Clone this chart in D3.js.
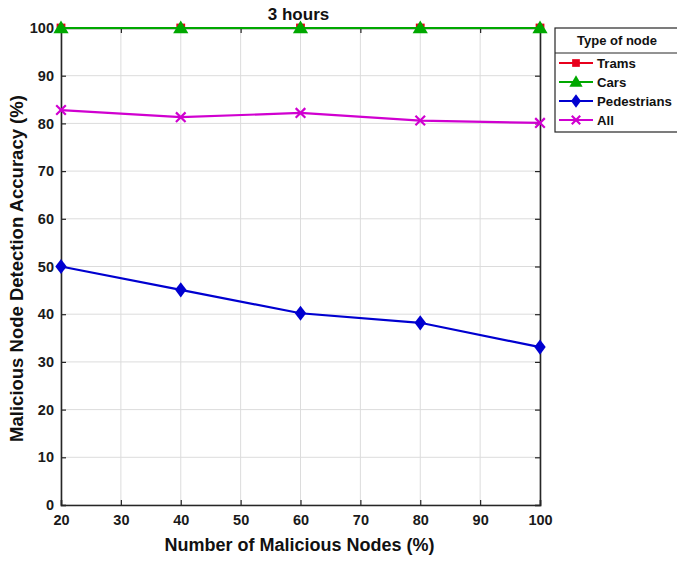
<!DOCTYPE html>
<html>
<head>
<meta charset="utf-8">
<script src="https://d3js.org/d3.v7.min.js"></script>
<style>
  body { margin: 0; background: #fff; }
  svg { display: block; font-family: "Liberation Sans", Arial, sans-serif; }
</style>
</head>
<body>
<svg id="chart" width="677" height="561"></svg>
<script>
// Detection accuracy by node type, 3 hours of simulation
const maliciousPct = [20, 40, 60, 80, 100];
const trams = [100, 100, 100, 100, 100];
const cars = [100, 100, 100, 100, 100];
const pedestrians = [50, 45.1, 40.2, 38.2, 33.1];
const allNodes = [82.8, 81.3, 82.2, 80.6, 80.1];
const xTicks = [20, 30, 40, 50, 60, 70, 80, 90, 100];
const yTicks = [0, 10, 20, 30, 40, 50, 60, 70, 80, 90, 100];

const series = [
  { name: "Trams", values: trams, color: "#e8001c", marker: "square" },
  { name: "Cars", values: cars, color: "#00a800", marker: "triangle" },
  { name: "Pedestrians", values: pedestrians, color: "#0000d0", marker: "diamond" },
  { name: "All", values: allNodes, color: "#d000d0", marker: "cross" }
];

const svg = d3.select("#chart");
const margin = { left: 61, right: 137, top: 28, bottom: 56 };
const W = 677, H = 561;
const x = d3.scaleLinear().domain([20, 100]).range([margin.left, W - margin.right]);
const y = d3.scaleLinear().domain([0, 100]).range([H - margin.bottom, margin.top]);
const axisColor = "#262626";

// grid
const grid = svg.append("g");
grid.selectAll(".gx").data(xTicks).join("line")
  .attr("x1", d => x(d)).attr("x2", d => x(d))
  .attr("y1", y(0)).attr("y2", y(100))
  .attr("stroke", "#dcdcdc").attr("stroke-width", 1);
grid.selectAll(".gy").data(yTicks).join("line")
  .attr("x1", x(20)).attr("x2", x(100))
  .attr("y1", d => y(d)).attr("y2", d => y(d))
  .attr("stroke", "#dcdcdc").attr("stroke-width", 1);

// axes with inward ticks on all four sides
const tickLen = 5;
const fmt = d3.format("d");
const bottomAxis = svg.append("g").attr("transform", `translate(0,${y(0)})`)
  .call(d3.axisBottom(x).tickValues(xTicks).tickSize(-tickLen).tickPadding(10).tickFormat(fmt));
const topAxis = svg.append("g").attr("transform", `translate(0,${y(100)})`)
  .call(d3.axisTop(x).tickValues(xTicks).tickSize(-tickLen).tickFormat(""));
const leftAxis = svg.append("g").attr("transform", `translate(${x(20)},0)`)
  .call(d3.axisLeft(y).tickValues(yTicks).tickSize(-tickLen).tickPadding(7).tickFormat(fmt));
const rightAxis = svg.append("g").attr("transform", `translate(${x(100)},0)`)
  .call(d3.axisRight(y).tickValues(yTicks).tickSize(-tickLen).tickFormat(""));

[bottomAxis, topAxis, leftAxis, rightAxis].forEach(g => {
  g.select(".domain").attr("stroke", axisColor).attr("stroke-width", 1.6);
  g.selectAll(".tick line").attr("stroke", axisColor).attr("stroke-width", 1.2);
  g.selectAll(".tick text").attr("fill", "#1a1a1a")
    .style("font-size", "14.5px").style("font-weight", "bold")
    .style("font-family", "'Liberation Sans', Arial, sans-serif");
});

// markers
function drawMarker(g, type, cx, cy, color, s) {
  if (type === "square") {
    g.append("rect").attr("x", cx - s * 0.55).attr("y", cy - s * 0.55)
      .attr("width", s * 1.1).attr("height", s * 1.1).attr("fill", color);
  } else if (type === "triangle") {
    const r = s * 0.95;
    g.append("path")
      .attr("d", `M${cx},${cy - r} L${cx + r},${cy + r * 0.7} L${cx - r},${cy + r * 0.7} Z`)
      .attr("fill", color);
  } else if (type === "diamond") {
    const r = s * 0.95;
    g.append("path")
      .attr("d", `M${cx},${cy - r} L${cx + r * 0.75},${cy} L${cx},${cy + r} L${cx - r * 0.75},${cy} Z`)
      .attr("fill", color);
  } else if (type === "cross") {
    const r = s * 0.6;
    g.append("path")
      .attr("d", `M${cx - r},${cy - r} L${cx + r},${cy + r} M${cx - r},${cy + r} L${cx + r},${cy - r}`)
      .attr("stroke", color).attr("stroke-width", 2.2).attr("fill", "none");
  }
}

const line = d3.line().x((d, i) => x(maliciousPct[i])).y(d => y(d));
const plot = svg.append("g");
series.forEach(s => {
  plot.append("path").datum(s.values).attr("d", line)
    .attr("fill", "none").attr("stroke", s.color).attr("stroke-width", 2.2);
  s.values.forEach((v, i) => drawMarker(plot, s.marker, x(maliciousPct[i]), y(v), s.color, 8));
});

// title and axis labels
svg.append("text").attr("x", (x(20) + x(100)) / 2 - 2).attr("y", 20)
  .attr("text-anchor", "middle").style("font-size", "17px").style("font-weight", "bold")
  .attr("fill", "#111").text("3 hours");
svg.append("text").attr("x", (x(20) + x(100)) / 2 - 1).attr("y", 551)
  .attr("text-anchor", "middle").style("font-size", "18px").style("font-weight", "bold")
  .attr("fill", "#111").text("Number of Malicious Nodes (%)");
svg.append("text")
  .attr("transform", `translate(23,${(y(0) + y(100)) / 2 + 2}) rotate(-90)`)
  .attr("text-anchor", "middle").style("font-size", "18.5px").style("font-weight", "bold")
  .attr("fill", "#111").text("Malicious Node Detection Accuracy (%)");

// legend
const lg = svg.append("g").attr("transform", "translate(555,28)");
lg.append("rect").attr("x", 0).attr("y", 0).attr("width", 124).attr("height", 104)
  .attr("fill", "#fff").attr("stroke", axisColor).attr("stroke-width", 1.2);
lg.append("line").attr("x1", 0).attr("x2", 124).attr("y1", 25).attr("y2", 25)
  .attr("stroke", axisColor).attr("stroke-width", 1);
lg.append("text").attr("x", 62).attr("y", 17).attr("text-anchor", "middle")
  .style("font-size", "13px").style("font-weight", "bold").attr("fill", "#111").text("Type of node");
series.forEach((s, i) => {
  const cy = 35 + i * 19;
  lg.append("line").attr("x1", 4).attr("x2", 38).attr("y1", cy).attr("y2", cy)
    .attr("stroke", s.color).attr("stroke-width", 2.2);
  drawMarker(lg, s.marker, 21, cy, s.color, 7);
  lg.append("text").attr("x", 42).attr("y", cy + 5)
    .style("font-size", "13.2px").style("font-weight", "bold").attr("fill", "#111").text(s.name);
});
</script>
</body>
</html>
